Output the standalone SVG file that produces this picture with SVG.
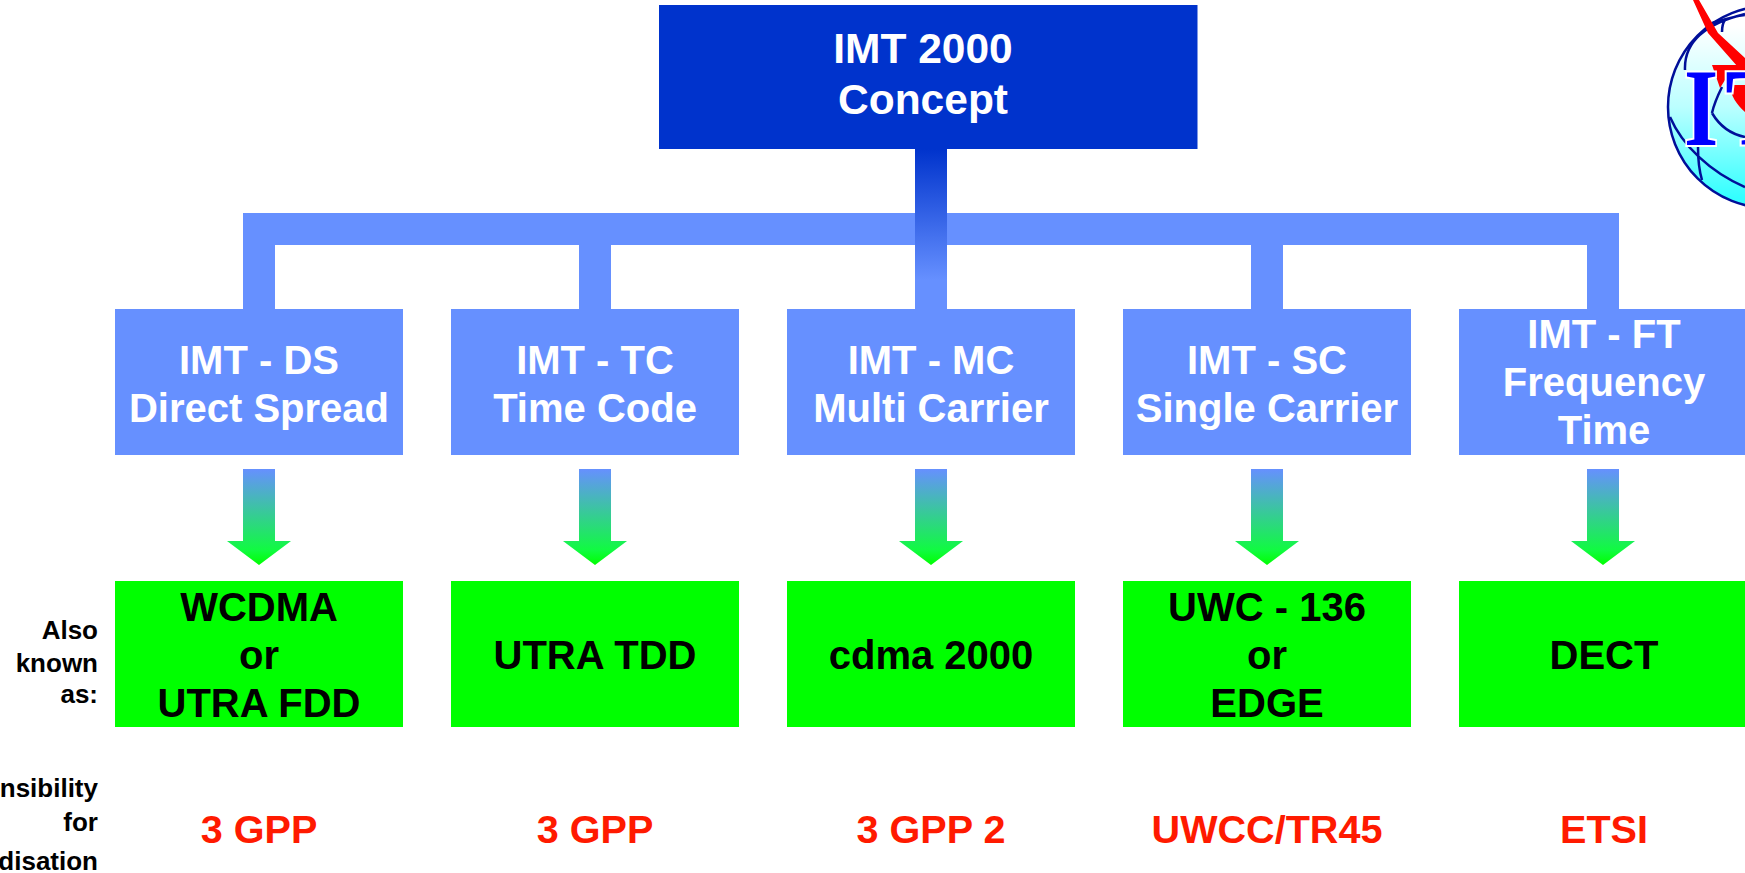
<svg xmlns="http://www.w3.org/2000/svg" width="1745" height="873" viewBox="0 0 1745 873">
<style>
text{font-family:"Liberation Sans",Arial,sans-serif;font-weight:700;text-anchor:middle}
.t{font-size:40px}
.w{fill:#fff}
.k{fill:#000}
.r{font-size:39.600px;fill:#ff1a00}
.l{font-size:26px;fill:#000;text-anchor:end}
.blue{fill:#6690ff}
.green{fill:#00ff00}
.arc{fill:none;stroke:#000f99;stroke-width:2.5}
.arrow{fill:url(#ag)}
.logo{font-family:"Liberation Serif",serif;font-size:110px;fill:#0000ff;stroke:#fff;stroke-width:4;paint-order:stroke;text-anchor:start}
</style>
<defs>
<linearGradient id="sg" x1="0" y1="0" x2="0" y2="1"><stop offset="0" stop-color="#0033cc"/><stop offset="0.82" stop-color="#6690ff"/></linearGradient>
<linearGradient id="ag" gradientUnits="userSpaceOnUse" x1="0" y1="469" x2="0" y2="565"><stop offset="0" stop-color="#6690ff"/><stop offset="0.85" stop-color="#10fb40"/><stop offset="1" stop-color="#00ff00"/></linearGradient>
<linearGradient id="gg" x1="0" y1="0" x2="0" y2="1"><stop offset="0.1" stop-color="#ffffff"/><stop offset="0.5" stop-color="#bbffff"/><stop offset="0.95" stop-color="#33ffff"/></linearGradient>
<polygon id="arr" points="-16,469 16,469 16,541 32,541 0,565 -32,541 -16,541"/>
</defs>
<rect width="1745" height="873" fill="#fff"/>
<g id="connectors">
<rect class="blue" x="243" y="213" width="1376" height="32"/>
<rect class="blue" x="243" y="245" width="32" height="64"/>
<rect class="blue" x="579" y="245" width="32" height="64"/>
<rect class="blue" x="1251" y="245" width="32" height="64"/>
<rect class="blue" x="1587" y="245" width="32" height="64"/>
<rect x="915" y="149" width="32" height="160" fill="url(#sg)"/>
<use href="#arr" class="arrow" x="259"/>
<use href="#arr" class="arrow" x="595"/>
<use href="#arr" class="arrow" x="931"/>
<use href="#arr" class="arrow" x="1267"/>
<use href="#arr" class="arrow" x="1603"/>
</g>
<g id="itu-logo">
<circle cx="1769" cy="107" r="101" fill="url(#gg)" stroke="#000f99" stroke-width="2.5"/>
<path class="arc" d="M1685 70C1684 45 1700 25 1745 14M1712 23C1722 20 1735 16 1745 15M1725 20C1722 24 1722 28 1722 32M1670 117C1682 145 1710 172 1745 187M1712 113C1722 130 1735 135 1745 137M1712 113C1714 104 1718 95 1722 87M1698 147C1698 160 1699 170 1702 180"/>
<path fill="#ff0000" d="M1693 0H1699L1718 33L1745 58V75L1708 33ZM1712 65H1745V72H1730L1720 88ZM1730 85H1745V112C1737 105 1730 95 1730 85Z"/>
<text class="logo" transform="translate(1684 145) scale(.8 1)">I</text>
<text class="logo" x="1725" y="145">T</text>
</g>
<g id="node-concept"><rect x="659" y="5" width="538.500" height="144" fill="#0033cc"/><text class="w" x="923" y="63" font-size="42.500">IMT 2000</text><text class="w" x="923" y="114" font-size="42.500">Concept</text></g>
<g id="node-ds"><rect class="blue" x="115" y="309" width="288" height="146"/><text class="t w" x="259" y="374">IMT - DS</text><text class="t w" x="259" y="422">Direct Spread</text></g>
<g id="node-tc"><rect class="blue" x="451" y="309" width="288" height="146"/><text class="t w" x="595" y="374">IMT - TC</text><text class="t w" x="595" y="422">Time Code</text></g>
<g id="node-mc"><rect class="blue" x="787" y="309" width="288" height="146"/><text class="t w" x="931" y="374">IMT - MC</text><text class="t w" x="931" y="422">Multi Carrier</text></g>
<g id="node-sc"><rect class="blue" x="1123" y="309" width="288" height="146"/><text class="t w" x="1267" y="374">IMT - SC</text><text class="t w" x="1267" y="422">Single Carrier</text></g>
<g id="node-ft"><rect class="blue" x="1459" y="309" width="288" height="146"/><text class="t w" x="1604" y="348">IMT - FT</text><text class="t w" x="1604" y="396">Frequency</text><text class="t w" x="1604" y="444">Time</text></g>
<g id="node-wcdma"><rect class="green" x="115" y="581" width="288" height="146"/><text class="t k" x="259" y="621">WCDMA</text><text class="t k" x="259" y="669">or</text><text class="t k" x="259" y="717">UTRA FDD</text></g>
<g id="node-utra"><rect class="green" x="451" y="581" width="288" height="146"/><text class="t k" x="595" y="669">UTRA TDD</text></g>
<g id="node-cdma"><rect class="green" x="787" y="581" width="288" height="146"/><text class="t k" x="931" y="669">cdma 2000</text></g>
<g id="node-uwc"><rect class="green" x="1123" y="581" width="288" height="146"/><text class="t k" x="1267" y="621">UWC - 136</text><text class="t k" x="1267" y="669">or</text><text class="t k" x="1267" y="717">EDGE</text></g>
<g id="node-dect"><rect class="green" x="1459" y="581" width="288" height="146"/><text class="t k" x="1604" y="669">DECT</text></g>
<g id="labels">
<text class="l" x="98" y="639">Also</text><text class="l" x="98" y="672">known</text><text class="l" x="98" y="703">as:</text>
<text class="l" x="98" y="797">nsibility</text><text class="l" x="98" y="831">for</text><text class="l" x="98" y="870">disation</text>
<text class="r" x="259" y="843">3 GPP</text><text class="r" x="595" y="843">3 GPP</text><text class="r" x="931" y="843">3 GPP 2</text><text class="r" x="1267" y="843">UWCC/TR45</text><text class="r" x="1604" y="843">ETSI</text>
</g>
</svg>
